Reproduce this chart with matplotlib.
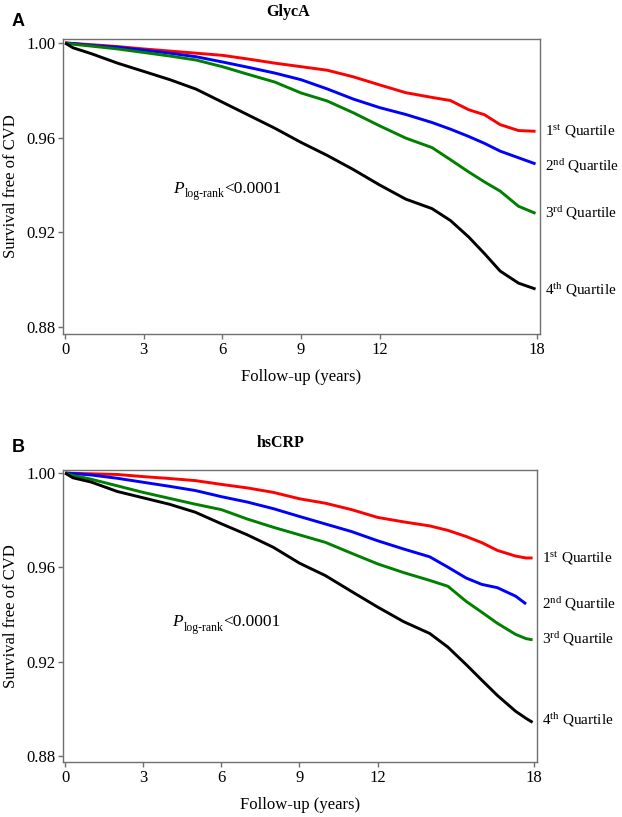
import numpy as np
import matplotlib
matplotlib.use("Agg")
import matplotlib.pyplot as plt

plt.rcParams['font.family'] = ['Liberation Serif', 'DejaVu Serif']
plt.rcParams['mathtext.fontset'] = 'custom'
plt.rcParams['mathtext.rm'] = 'Liberation Serif'
plt.rcParams['mathtext.it'] = 'Liberation Serif:italic'

# follow-up time points (years)
years_a = [0, 0.3, 1, 2, 3, 4, 5, 6, 7, 8, 9, 10, 11, 12, 13, 14, 14.7, 15.4, 16, 16.6, 17.3, 17.95]
years_b = [0, 0.3, 1, 2, 3, 4, 5, 6, 7, 8, 9, 10, 11, 12, 13, 14, 14.7, 15.4, 16, 16.6, 17.3, 17.7, 17.95]

# Panel A - GlycA quartiles
glyca_q1 = [1.0, 0.9998, 0.9993, 0.9985, 0.9975, 0.9966, 0.9957, 0.9948, 0.9932, 0.9915, 0.9900, 0.9885,
            0.9857, 0.9823, 0.9790, 0.9770, 0.9757, 0.9718, 0.9697, 0.9655, 0.9630, 0.9627]
glyca_q2 = [1.0, 0.9998, 0.9990, 0.9982, 0.9970, 0.9957, 0.9942, 0.9920, 0.9897, 0.9873, 0.9845, 0.9806,
            0.9763, 0.9727, 0.9698, 0.9664, 0.9636, 0.9605, 0.9576, 0.9543, 0.9515, 0.9489]
glyca_q3 = [1.0, 0.9995, 0.9987, 0.9975, 0.9960, 0.9945, 0.9928, 0.9900, 0.9867, 0.9835, 0.9789, 0.9755,
            0.9705, 0.9650, 0.9598, 0.9558, 0.9507, 0.9455, 0.9413, 0.9374, 0.9310, 0.9280]
glyca_q4 = [1.0, 0.9980, 0.9955, 0.9915, 0.9880, 0.9845, 0.9805, 0.9750, 0.9695, 0.9640, 0.9580, 0.9525,
            0.9465, 0.9400, 0.9340, 0.9300, 0.9250, 0.9180, 0.9110, 0.9036, 0.8985, 0.8960]

# Panel B - hsCRP quartiles
hscrp_q1 = [1.0, 0.9999, 0.9997, 0.9994, 0.9985, 0.9977, 0.9968, 0.9952, 0.9937, 0.9918, 0.9891, 0.9872,
            0.9845, 0.9812, 0.9793, 0.9776, 0.9757, 0.9731, 0.9705, 0.9672, 0.9648, 0.9640, 0.9640]
hscrp_q2 = [1.0, 0.9998, 0.9992, 0.9978, 0.9961, 0.9944, 0.9926, 0.9900, 0.9877, 0.9849, 0.9816, 0.9784,
            0.9752, 0.9713, 0.9678, 0.9645, 0.9601, 0.9555, 0.9528, 0.9514, 0.9478, 0.9445, np.nan]
hscrp_q3 = [1.0, 0.9990, 0.9974, 0.9946, 0.9918, 0.9893, 0.9868, 0.9845, 0.9805, 0.9770, 0.9738, 0.9706,
            0.9660, 0.9615, 0.9578, 0.9545, 0.9520, 0.9456, 0.9410, 0.9363, 0.9316, 0.9298, 0.9293]
hscrp_q4 = [1.0, 0.9980, 0.9962, 0.9922, 0.9895, 0.9868, 0.9834, 0.9785, 0.9738, 0.9685, 0.9618, 0.9565,
            0.9498, 0.9432, 0.9370, 0.9320, 0.9262, 0.9188, 0.9122, 0.9057, 0.8990, 0.8960, 0.8943]

quartile_labels = [r'1$^{\mathrm{st}}$ Quartile', r'2$^{\mathrm{nd}}$ Quartile',
                   r'3$^{\mathrm{rd}}$ Quartile', r'4$^{\mathrm{th}}$ Quartile']
label_y_a = [0.9625, 0.948, 0.928, 0.8957]
label_y_b = [0.964, 0.9444, 0.9296, 0.8953]
colors = ['#ff0000', '#0000ff', '#008000', '#000000']

x_ticks = [0, 3, 6, 9, 12, 18]
y_ticks = [0.88, 0.92, 0.96, 1.00]
spine_col = '#707070'


def draw_panel(ax, years, curves, label_y, ylim, p_y):
    for vals, c in zip(curves, colors):
        ax.plot(years, vals, color=c, lw=2.1, solid_capstyle='butt')

    ax.set_xlim(-0.08, 18.12)
    ax.set_ylim(*ylim)
    ax.set_xticks(x_ticks)
    ax.set_yticks(y_ticks)
    ax.set_yticklabels(['%.2f' % v for v in y_ticks])
    ax.tick_params(direction='out', length=3.5, width=1, color=spine_col,
                   labelsize=12, pad=2)
    for s in ax.spines.values():
        s.set_color(spine_col)
        s.set_linewidth(1)

    ax.set_xlabel('Follow-up (years)', fontsize=12, labelpad=8)
    ax.set_ylabel('Survival free of CVD', fontsize=12, labelpad=5)

    # quartile names next to the curve ends
    for txt, yv in zip(quartile_labels, label_y):
        ax.text(18.3, yv, txt, fontsize=11, va='center', ha='left', clip_on=False)

    # P log-rank note, built from three pieces
    t1 = ax.text(4.12, p_y, 'P', style='italic', fontsize=12.5, va='baseline')
    t2 = ax.annotate('log-rank', xy=(1, 0), xycoords=t1, xytext=(0.5, -2.5),
                     textcoords='offset points', fontsize=8.5, va='bottom')
    ax.annotate('<0.0001', xy=(1, 0), xycoords=(t2, t1), fontsize=12.5, va='bottom')


fig = plt.figure(figsize=(6.22, 8.17), dpi=100)
ax_a = fig.add_axes([63 / 622, 1 - 334 / 817, 477 / 622, 295 / 817])
ax_b = fig.add_axes([63 / 622, 1 - 762 / 817, 474 / 622, 292 / 817])

draw_panel(ax_a, years_a, [glyca_q1, glyca_q2, glyca_q3, glyca_q4], label_y_a, (0.877, 1.0017), 0.9366)
draw_panel(ax_b, years_b, [hscrp_q1, hscrp_q2, hscrp_q3, hscrp_q4], label_y_b, (0.8775, 1.0013), 0.9351)

fig.text(288 / 622, 1 - 12 / 817, 'GlycA', fontsize=11.5, weight='bold', ha='center', va='center')
fig.text(281 / 622, 1 - 443 / 817, 'hsCRP', fontsize=11.5, weight='bold', ha='center', va='center')
fig.text(12 / 622, 1 - 22 / 817, 'A', family='Liberation Sans', fontsize=13, weight='bold', va='center')
fig.text(12 / 622, 1 - 448 / 817, 'B', family='Liberation Sans', fontsize=13, weight='bold', va='center')

fig.savefig('out.png', dpi=100)
